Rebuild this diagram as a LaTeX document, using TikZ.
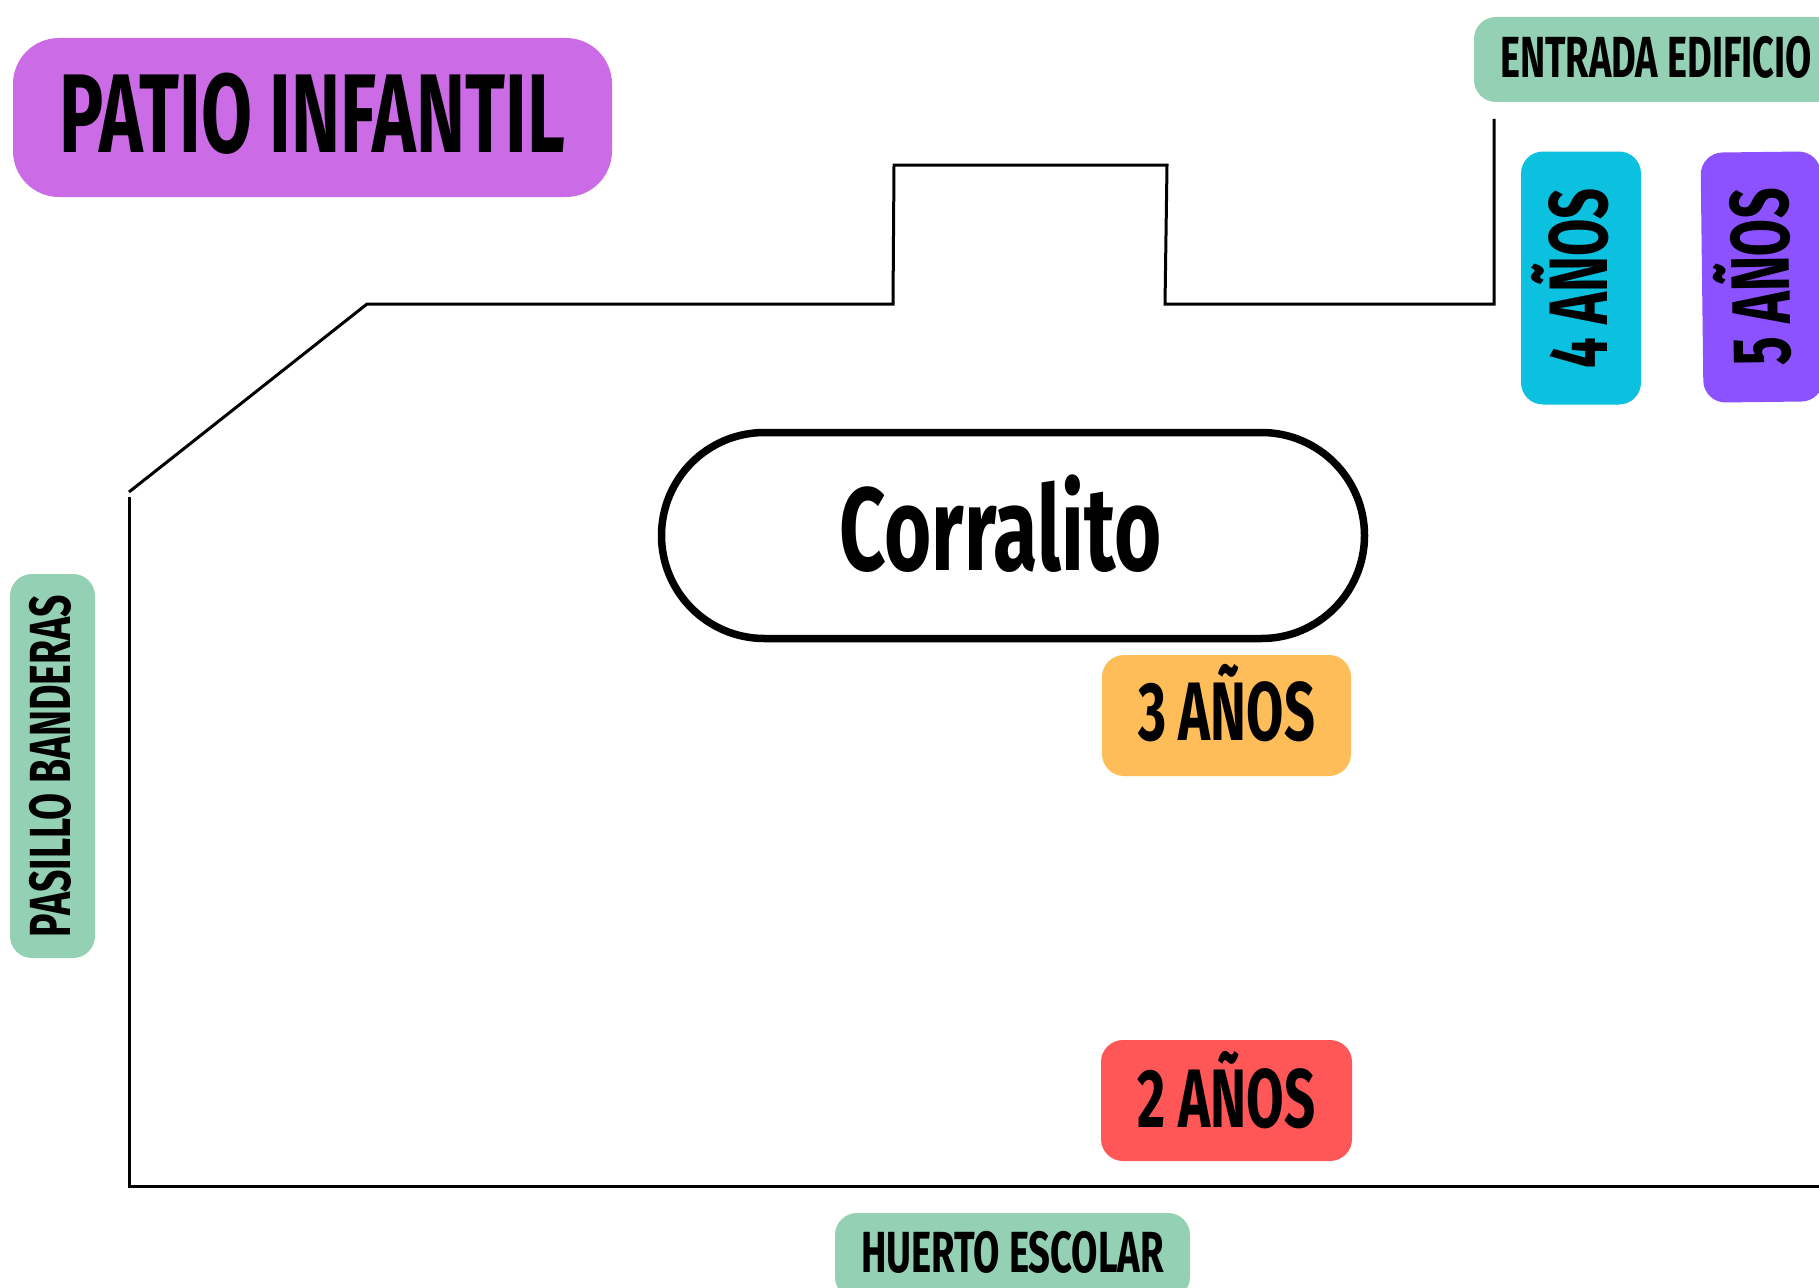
\documentclass[tikz,border=0pt]{standalone}
\usepackage{fontspec}
\usepackage{graphicx}
\setmainfont{Fira Sans}
\definecolor{cpatio}{HTML}{CB6CE6}
\definecolor{cgreen}{HTML}{94D1B4}
\definecolor{ccyan}{HTML}{0CC0DF}
\definecolor{cviolet}{HTML}{8C52FF}
\definecolor{corange}{HTML}{FFBD59}
\definecolor{cred}{HTML}{FF5757}
\newcommand\lbl[3]{\fontsize{#2pt}{#2pt}\selectfont\bfseries\resizebox{#1}{\height}{#3}}
\begin{document}
\begin{tikzpicture}[x=1pt,y=-1pt,
  tag/.style={fill=#1,draw=none,inner sep=0pt,outer sep=0pt,rounded corners=22pt},
  wall/.style={line width=3pt,draw=black,line join=miter}]
\clip (0,0) rectangle (1819,1287);
\fill[white] (0,0) rectangle (1819,1287);

% outline of the playground
\draw[wall] (129,492) -- (367,304) -- (893,304) -- (894,165) -- (1167,165) -- (1165,304) -- (1494,304) -- (1494,119);
\draw[wall] (129,497) -- (129,1186) -- (1830,1186);

% title
\node[tag=cpatio,rounded corners=46pt,minimum width=599pt,minimum height=159pt,text height=77pt,text depth=8pt]
  (patio) at (312.5,117.5) {\lbl{505pt}{112}{PATIO INFANTIL}};

\node[tag=cgreen,minimum width=364pt,minimum height=85pt,text height=40pt,text depth=4pt]
  (entrada) at (1656,59.5) {\lbl{312pt}{58}{ENTRADA EDIFICIO}};

\node[tag=ccyan,rotate=90,minimum width=253pt,minimum height=120pt,text height=57pt,text depth=5pt]
  (cuatro) at (1581,278) {\lbl{180pt}{83}{4 AÑOS}};

\node[tag=cviolet,rotate=90.7,minimum width=250pt,minimum height=120pt,text height=57pt,text depth=2pt]
  (cinco) at (1762,277) {\lbl{178pt}{83}{5 AÑOS}};

\node[draw=black,fill=white,line width=7.5pt,inner sep=0pt,rounded corners=103pt,minimum width=703pt,minimum height=206pt,text height=80pt,text depth=10pt]
  (corralito) at (1013,535.5) {\lbl{322pt}{118}{Corralito}\kern25pt};

\node[tag=corange,minimum width=249pt,minimum height=121pt,text height=57pt,text depth=8pt]
  (tres) at (1226.5,715.5) {\lbl{177pt}{83}{3 AÑOS}};

\node[tag=cred,minimum width=251pt,minimum height=121pt,text height=57pt,text depth=4pt]
  (dos) at (1226.5,1100.5) {\lbl{178pt}{83}{2 AÑOS}};

\node[tag=cgreen,rotate=90,minimum width=384pt,minimum height=85pt,text height=40pt,text depth=5pt]
  (pasillo) at (52.5,766) {\lbl{342pt}{58}{PASILLO BANDERAS}};

\node[tag=cgreen,minimum width=355pt,minimum height=86pt,text height=40pt,text depth=8pt]
  (huerto) at (1012.5,1256) {\lbl{303pt}{58}{HUERTO ESCOLAR}};
\end{tikzpicture}
\end{document}
